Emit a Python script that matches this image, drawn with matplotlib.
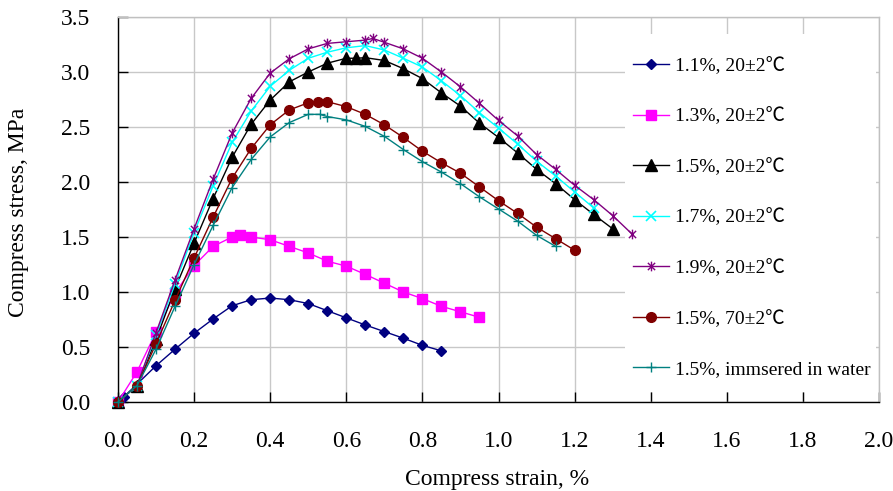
import matplotlib
matplotlib.use("Agg")
import matplotlib.pyplot as plt
from matplotlib.path import Path
from matplotlib.patches import Rectangle

plt.rcParams['font.family'] = ['Liberation Serif', 'Noto Sans CJK SC', 'DejaVu Sans']

# ---------------- data ----------------
labels = ["1.1%, 20±2℃", "1.3%, 20±2℃", "1.5%, 20±2℃", "1.7%, 20±2℃",
          "1.9%, 20±2℃", "1.5%, 70±2℃", "1.5%, immsered in water"]

s11_x = [0, 0.015, 0.10, 0.15, 0.20, 0.25, 0.30, 0.35, 0.40, 0.45, 0.50, 0.55,
         0.60, 0.65, 0.70, 0.75, 0.80, 0.85]
s11_y = [0, 0.045, 0.33, 0.48, 0.625, 0.755, 0.875, 0.93, 0.945, 0.93, 0.895, 0.83,
         0.765, 0.70, 0.64, 0.58, 0.515, 0.465]

s13_x = [0, 0.05, 0.10, 0.15, 0.20, 0.25, 0.30, 0.32, 0.35, 0.40, 0.45, 0.50, 0.55,
         0.60, 0.65, 0.70, 0.75, 0.80, 0.85, 0.90, 0.95]
s13_y = [0, 0.275, 0.635, 0.99, 1.24, 1.415, 1.50, 1.515, 1.50, 1.475, 1.415, 1.355, 1.28,
         1.235, 1.16, 1.08, 1.00, 0.94, 0.87, 0.82, 0.77]

s15_x = [0, 0.05, 0.10, 0.15, 0.20, 0.25, 0.30, 0.35, 0.40, 0.45, 0.50, 0.55, 0.60, 0.625,
         0.65, 0.70, 0.75, 0.80, 0.85, 0.90, 0.95, 1.00, 1.05, 1.10, 1.15, 1.20, 1.25, 1.30]
s15_y = [0, 0.15, 0.57, 1.03, 1.445, 1.85, 2.225, 2.525, 2.745, 2.91, 3.0, 3.08, 3.125, 3.125,
         3.13, 3.105, 3.03, 2.94, 2.81, 2.69, 2.535, 2.405, 2.265, 2.115, 1.985, 1.84, 1.705, 1.575]

s17_x = [0, 0.05, 0.10, 0.15, 0.20, 0.25, 0.30, 0.35, 0.40, 0.45, 0.50, 0.55, 0.60,
         0.65, 0.70, 0.75, 0.80, 0.85, 0.90, 0.95, 1.00, 1.05, 1.10, 1.15, 1.20, 1.25]
s17_y = [0, 0.15, 0.61, 1.075, 1.54, 1.965, 2.36, 2.645, 2.87, 3.015, 3.125, 3.18, 3.22,
         3.24, 3.20, 3.125, 3.045, 2.92, 2.785, 2.63, 2.49, 2.345, 2.19, 2.055, 1.91, 1.765]

s19_x = [0, 0.05, 0.10, 0.15, 0.20, 0.25, 0.30, 0.35, 0.40, 0.45, 0.50, 0.55, 0.60, 0.65,
         0.67, 0.70, 0.75, 0.80, 0.85, 0.90, 0.95, 1.00, 1.05, 1.10, 1.15, 1.20, 1.25, 1.30, 1.35]
s19_y = [0, 0.15, 0.63, 1.11, 1.575, 2.025, 2.445, 2.76, 2.99, 3.12, 3.21, 3.26, 3.275, 3.29,
         3.305, 3.27, 3.21, 3.125, 3.0, 2.865, 2.715, 2.56, 2.42, 2.25, 2.115, 1.97, 1.84, 1.695, 1.53]

s70_x = [0, 0.05, 0.10, 0.15, 0.20, 0.25, 0.30, 0.35, 0.40, 0.45, 0.50, 0.525, 0.55, 0.60,
         0.65, 0.70, 0.75, 0.80, 0.85, 0.90, 0.95, 1.00, 1.05, 1.10, 1.15, 1.20]
s70_y = [0, 0.15, 0.53, 0.925, 1.31, 1.68, 2.035, 2.305, 2.52, 2.655, 2.72, 2.73, 2.73, 2.685,
         2.615, 2.52, 2.405, 2.28, 2.175, 2.08, 1.955, 1.83, 1.715, 1.59, 1.485, 1.38]

sw_x = [0, 0.05, 0.10, 0.15, 0.20, 0.25, 0.30, 0.35, 0.40, 0.45, 0.50, 0.53, 0.55, 0.60,
        0.65, 0.70, 0.75, 0.80, 0.85, 0.90, 0.95, 1.00, 1.05, 1.10, 1.15]
sw_y = [0, 0.15, 0.48, 0.87, 1.25, 1.605, 1.95, 2.205, 2.41, 2.54, 2.615, 2.615, 2.595, 2.565,
        2.505, 2.415, 2.295, 2.185, 2.09, 1.985, 1.865, 1.755, 1.645, 1.515, 1.415]

x_ticks = [0.0, 0.2, 0.4, 0.6, 0.8, 1.0, 1.2, 1.4, 1.6, 1.8, 2.0]
y_ticks = [0.0, 0.5, 1.0, 1.5, 2.0, 2.5, 3.0, 3.5]

# ---------------- styling ----------------
star = Path([(0, -1), (0, 1), (-0.75, -0.75), (0.75, 0.75), (-0.75, 0.75), (0.75, -0.75)],
            [Path.MOVETO, Path.LINETO, Path.MOVETO, Path.LINETO, Path.MOVETO, Path.LINETO])

series = [
    (s11_x, s11_y, dict(color='#000080', marker='D', ms=5.5)),
    (s13_x, s13_y, dict(color='#FF00FF', marker='s', ms=6.5)),
    (s15_x, s15_y, dict(color='#000000', marker='^', ms=8)),
    (s17_x, s17_y, dict(color='#00FFFF', marker='x', ms=6.5, mew=1.2)),
    (s19_x, s19_y, dict(color='#800080', marker=star, ms=7, mew=1.0)),
    (s70_x, s70_y, dict(color='#800000', marker='o', ms=7)),
    (sw_x, sw_y, dict(color='#008080', marker='+', ms=7.5, mew=1.0)),
]

W, H = 893, 491
fig = plt.figure(figsize=(W / 100, H / 100), dpi=100)
ax = fig.add_axes([118 / W, (H - 402) / H, (879 - 118) / W, (402 - 17) / H])

for (xs, ys, st), lab in zip(series, labels):
    ax.plot(xs, ys, lw=1.0, label=lab, zorder=3, clip_on=False, **st)

ax.set_xlim(0, 2.0)
ax.set_ylim(0, 3.5)
ax.set_xticks(x_ticks)
ax.set_yticks(y_ticks)
ax.set_xticklabels([f"{v:.1f}" for v in x_ticks])
ax.set_yticklabels([f"{v:.1f}" for v in y_ticks])
ax.tick_params(axis='both', direction='in', length=7, width=1, color='black',
               labelsize=17, top=False, right=False)
ax.tick_params(axis='x', pad=21)
ax.tick_params(axis='y', pad=20)

ax.grid(True, color='#c8c8c8', lw=1)
ax.set_axisbelow(True)
for side in ['left', 'bottom']:
    ax.spines[side].set_color('black')
    ax.spines[side].set_linewidth(1)
for side in ['top', 'right']:
    ax.spines[side].set_color('#c0c0c0')
    ax.spines[side].set_linewidth(1)

# white legend background (covers grid, below the curves)
bg = Rectangle((625, H - 392), 876 - 625, 392 - 34, transform=None,
               facecolor='white', edgecolor='none', zorder=2)
ax.add_artist(bg)

leg = ax.legend(loc='upper left', bbox_to_anchor=(633 / W, 1 - 57 / H),
                bbox_transform=fig.transFigure, frameon=False, fontsize=14,
                handlelength=1.85, handletextpad=0.3, labelspacing=1.68,
                borderpad=0, borderaxespad=0, numpoints=1)

fig.text(497 / W, 1 - 479 / H, "Compress strain, %", ha='center', va='center', fontsize=17)
fig.text(19 / W, 1 - 212 / H, "Compress stress, MPa", ha='center', va='center',
         rotation=90, fontsize=17)

fig.savefig("out.png", dpi=100)
